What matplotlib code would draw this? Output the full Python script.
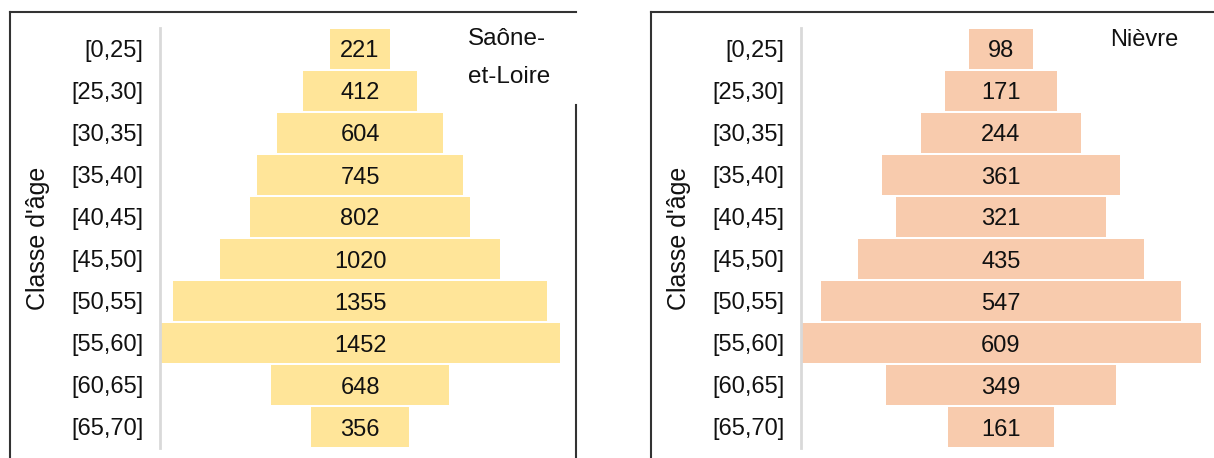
import matplotlib
matplotlib.use("Agg")
import matplotlib.pyplot as plt
from matplotlib.lines import Line2D

plt.rcParams['font.family'] = ['Liberation Sans', 'DejaVu Sans']

age_classes = ["[0,25]", "[25,30]", "[30,35]", "[35,40]", "[40,45]",
               "[45,50]", "[50,55]", "[55,60]", "[60,65]", "[65,70]"]
saone_et_loire = [221, 412, 604, 745, 802, 1020, 1355, 1452, 648, 356]
nievre = [98, 171, 244, 361, 321, 435, 547, 609, 349, 161]

W, H = 1214, 458
fig = plt.figure(figsize=(W / 100, H / 100), dpi=100)
FS = 17
TXT = "#111111"


def px(x0, y0, w, h):
    """Pixel box (top-left origin) -> figure fraction rect."""
    return [x0 / W, 1 - (y0 + h) / H, w / W, h / H]


def line(x1, y1, x2, y2, color="#333333", lw=1.5):
    fig.add_artist(Line2D([x1 / W, x2 / W], [1 - y1 / H, 1 - y2 / H],
                          transform=fig.transFigure, color=color, lw=lw))


def pyramid(left_px, values, color):
    ax = fig.add_axes(px(left_px, 28, 400, 420))
    half = max(values) / 2
    pos = list(range(len(values)))
    lefts = [-v / 2 for v in values]
    ax.barh(pos, values, left=lefts, height=0.94, color=color)
    for i, v in enumerate(values):
        ax.text(0, i, str(v), ha="center", va="center_baseline", fontsize=FS, color=TXT)
    ax.set_xlim(-half, half)
    ax.set_ylim(len(values) - 0.5, -0.5)
    ax.set_yticks(pos)
    ax.set_yticklabels(age_classes, fontsize=FS, color=TXT, va="center_baseline")
    ax.set_xticks([])
    ax.tick_params(axis="y", length=0, pad=12)
    for s in ("top", "right", "bottom"):
        ax.spines[s].set_visible(False)
    ax.spines["left"].set_color("#d9d9d9")
    ax.spines["left"].set_linewidth(2)
    ax.patch.set_alpha(0)
    return ax


pyramid(160, saone_et_loire, "#FFE599")
pyramid(801, nievre, "#F8CBAD")

# panel frames
line(10, 12, 576, 12)
line(10, 12, 10, 460)
line(576, 105, 576, 460)
line(651, 12, 1216, 12)
line(651, 12, 651, 460)

# axis titles
for x in (38, 679):
    fig.text(x / W, 1 - 238 / H, "Classe d'âge", rotation=90, ha="center", va="center",
             fontsize=18, color=TXT)

# panel titles
fig.text(468 / W, 1 - 58 / H, "Saône-\net-Loire", ha="left", va="center",
         fontsize=17.5, color=TXT, linespacing=1.9)
fig.text(1110 / W, 1 - 40 / H, "Nièvre", ha="left", va="center",
         fontsize=17, color=TXT)

fig.savefig("out.png", dpi=100, facecolor="white")
